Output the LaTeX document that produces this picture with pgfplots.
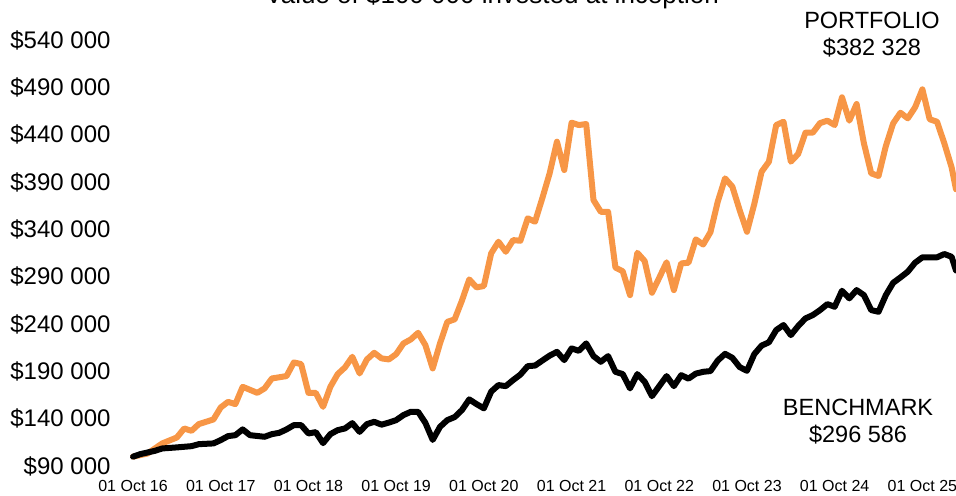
\documentclass[border=0pt]{standalone}
\usepackage{pgfplots}
\pgfplotsset{compat=1.18}
\usepackage{fontspec}
\setmainfont{Liberation Sans}
\definecolor{portf}{HTML}{F79646}
\begin{document}
\begin{tikzpicture}
\begin{axis}[
  name=ax,
  scale only axis, width=822.7pt, height=426pt,
  xmin=0, xmax=112.6, ymin=90000, ymax=540000,
  clip=false,
  scaled y ticks=false,
  axis line style={draw=none},
  major tick length=0pt,
  xtick={0,12,24,36,48,60,72,84,96,108},
  xticklabels={01 Oct 16,01 Oct 17,01 Oct 18,01 Oct 19,01 Oct 20,01 Oct 21,01 Oct 22,01 Oct 23,01 Oct 24,01 Oct 25},
  ytick={90000,140000,190000,240000,290000,340000,390000,440000,490000,540000},
  yticklabels={\$90 000,\$140 000,\$190 000,\$240 000,\$290 000,\$340 000,\$390 000,\$440 000,\$490 000,\$540 000},
  xticklabel style={font=\fontsize{16}{18}\selectfont, yshift=-11pt},
  yticklabel style={font=\fontsize{24}{28}\selectfont, xshift=-19pt},
]
\addplot[portf, line width=6pt, line join=round, line cap=round] coordinates {
(0,100000) (2,103400) (4,114000) (6,120300) (7,129800) (8,127300) (9,134400) (11,139300)
(12,152000) (13,157900) (14,155500) (15,173800) (17,167400) (18,172100) (19,182600) (21,185100)
(22,199500) (23,197800) (24,167400) (25,167400) (26,152600) (27,173800) (28,187200) (29,194300)
(30,205500) (31,187900) (32,202700) (33,209700) (34,203800) (35,202700) (36,208300) (37,219600)
(38,223800) (39,230800) (40,217800) (41,193200) (42,219600) (43,242400) (44,245000) (45,264800)
(46,287200) (47,278800) (48,280200) (49,314700) (50,327000) (51,316400) (52,328700) (53,328000)
(54,351700) (55,348100) (56,373000) (57,399200) (58,432600) (59,402700) (60,452700) (61,450200) (62,451300)
(63,371000) (64,358600) (65,358600) (66,299700) (67,295800) (68,270600) (69,315300) (70,306600)
(71,273100) (72,289000) (73,305300) (74,275900) (75,304100) (76,304800) (77,329500) (78,324000) (79,337000)
(80,369200) (81,393900) (82,385100) (83,360400) (84,337500) (85,366800) (86,400900) (87,411500)
(88,450200) (89,453700) (90,411500) (91,419600) (92,442100) (93,442100) (94,452300) (95,454800)
(96,450200) (97,479500) (98,454800) (99,472400) (100,430900) (101,399200) (102,396400) (103,428000)
(104,452000) (105,463200) (106,457300) (107,468900) (108,487900) (109,456300) (110,453700) (111,430900)
(112,405500) (112.6,382328)
};
\addplot[black, line width=6pt, line join=round, line cap=round] coordinates {
(0,100000) (1,102700) (3,106200) (4,108700) (6,109800) (8,111100) (9,113200) (11,114000)
(12,117500) (13,121700) (14,122700) (15,128800) (16,122700) (18,121000) (19,123800) (20,125200)
(21,128800) (22,133300) (23,133300) (24,124500) (25,125900) (26,114300) (27,123800) (28,128000)
(29,129800) (30,135400) (31,126200) (32,134400) (33,136800) (34,133800) (35,136000) (36,138600)
(37,143900) (38,147400) (39,147400) (40,135700) (41,117700) (42,131500) (43,138600) (44,141800)
(45,149200) (46,160500) (47,155500) (48,151000) (49,168700) (50,175600) (51,174500) (52,180900)
(53,186700) (54,195600) (55,196200) (56,201500) (57,206700) (58,210700) (59,202000) (60,214300) (61,211800)
(62,219600) (63,206200) (64,200200) (65,206200) (66,189600) (67,187200) (68,172100) (69,187200)
(70,179100) (71,163900) (72,174500) (73,185100) (74,174500) (75,186100) (76,182400) (77,187700) (78,189600)
(79,190400) (80,201500) (81,208600) (82,204400) (83,194600) (84,190700) (85,208300) (86,217300)
(87,220800) (88,233700) (89,239000) (90,228400) (91,237900) (92,246000) (93,249500) (94,254800)
(95,261100) (96,258300) (97,275200) (98,267200) (99,275900) (100,270600) (101,254800) (102,253000)
(103,270600) (104,283600) (105,289300) (106,295300) (107,304800) (108,310500) (109,310500) (110,310500)
(111,314000) (112,311100) (112.6,296586)
};
\node[font=\fontsize{23.5}{27}\selectfont] at (axis cs:101.1,561000) {PORTFOLIO};
\node[font=\fontsize{23.5}{27}\selectfont] at (axis cs:101.1,531500) {\$382 328};
\node[font=\fontsize{23.5}{27}\selectfont] at (axis cs:99.2,152300) {BENCHMARK};
\node[font=\fontsize{23.5}{27}\selectfont] at (axis cs:99.2,123800) {\$296 586};
\end{axis}
\node[anchor=base, font=\fontsize{26}{30}\selectfont] at ([xshift=359pt,yshift=36pt]ax.north west) {Value of \$100 000 invested at inception};
\pgfresetboundingbox
\path[use as bounding box] ([xshift=-133pt,yshift=-29pt]ax.south west) rectangle ([yshift=40pt]ax.north east);
\end{tikzpicture}
\end{document}
